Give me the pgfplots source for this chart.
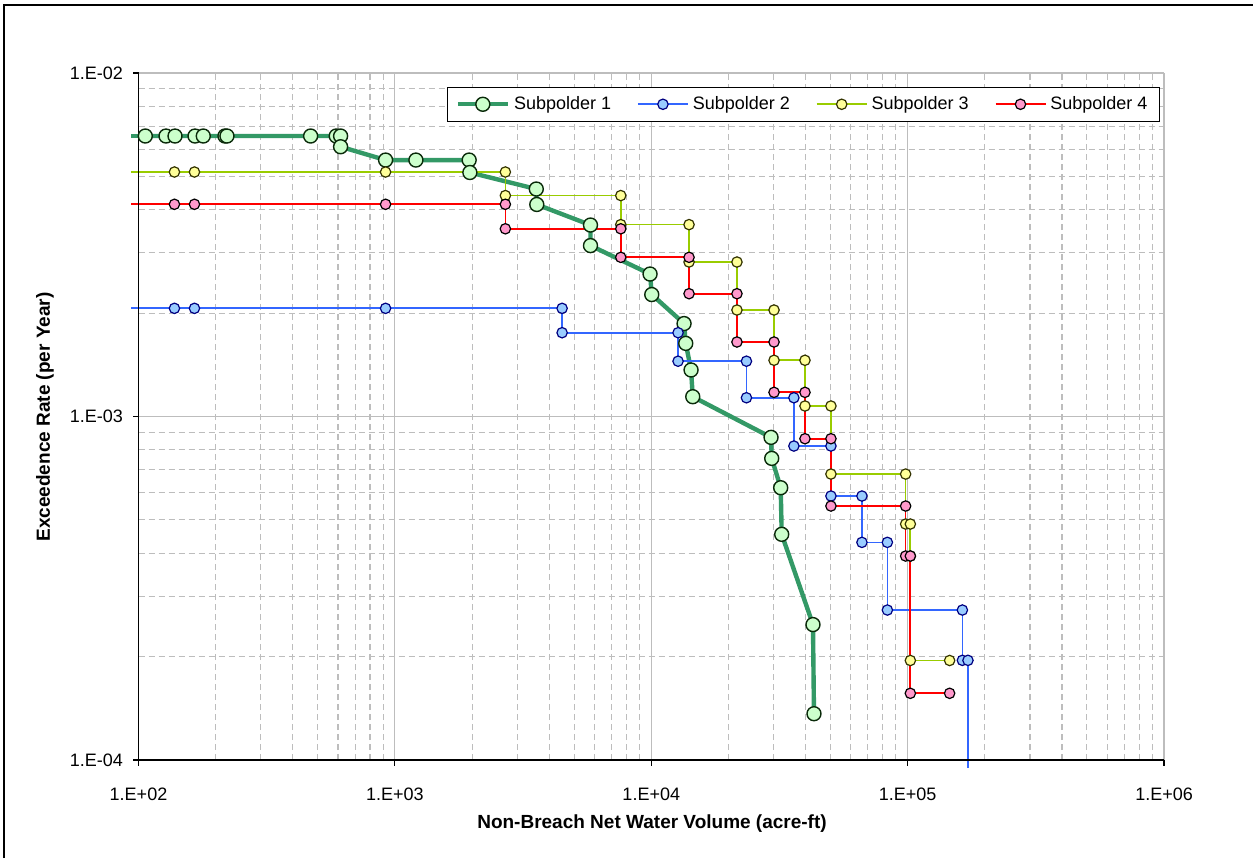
\documentclass[border=0pt]{standalone}
\usepackage{pgfplots}
\pgfplotsset{compat=1.18}
\usepackage{fontspec}
\setmainfont{Liberation Sans}
\definecolor{sAline}{HTML}{339966}\definecolor{sAfill}{HTML}{CCFFCC}\definecolor{sAedge}{HTML}{0A2A0A}
\definecolor{sBline}{HTML}{3366FF}\definecolor{sBfill}{HTML}{99CCFF}\definecolor{sBedge}{HTML}{000080}
\definecolor{sCline}{HTML}{99CC00}\definecolor{sCfill}{HTML}{FFFF99}\definecolor{sCedge}{HTML}{333300}
\definecolor{sDline}{HTML}{FF0000}\definecolor{sDfill}{HTML}{FF99CC}\definecolor{sDedge}{HTML}{000000}
\definecolor{gridc}{HTML}{BDBDBD}
\begin{document}
\begin{tikzpicture}
\path[use as bounding box] (0,0) rectangle (626.5pt,429pt);
\draw[line width=0.7pt] (2pt,0pt) -- (2pt,426.5pt) -- (626.5pt,426.5pt);
\begin{axis}[
  at={(69.25pt,49pt)}, anchor=south west,
  scale only axis, width=512.75pt, height=343.5pt,
  xmode=log, ymode=log,
  xmin=100, xmax=1e6, ymin=1e-4, ymax=1e-2,
  clip=false,
  axis line style={draw=none},
  grid=both,
  major grid style={solid, draw=gridc, line width=0.55pt},
  minor grid style={dash pattern=on 3.2pt off 1.8pt, draw=gridc, line width=0.55pt},
  xtick={1e2,1e3,1e4,1e5,1e6},
  xticklabels={1.E+02,1.E+03,1.E+04,1.E+05,1.E+06},
  ytick={1e-4,1e-3,1e-2},
  yticklabels={1.E-04,1.E-03,1.E-02},
  xtick pos=bottom, ytick pos=left,
  tick align=outside,
  major tick length=2.75pt, minor tick length=0pt,
  tick style={black, line width=0.6pt},
  ticklabel style={font=\fontsize{9}{10}\selectfont},
  xticklabel style={anchor=north, yshift=-7.5pt},
  yticklabel style={anchor=east, xshift=-1.5pt},
  legend columns=4,
  legend style={at={(rel axis cs:0.996,0.98)}, anchor=north east,
    draw=black, line width=0.5pt, fill=white,
    font=\fontsize{9}{10}\selectfont, inner xsep=4pt, inner ysep=2.5pt,
    /tikz/every even column/.append style={column sep=11pt}},
  legend image code/.code={\draw[mark repeat=2,mark phase=2] plot coordinates {(0pt,0pt)(12.5pt,0pt)(25pt,0pt)};},
  sA/.style={draw=sAline, line width=2.2pt, mark=*, mark size=3.5pt, mark options={fill=sAfill, draw=sAedge, line width=0.7pt, solid}},
  sB/.style={draw=sBline, line width=0.85pt, mark=*, mark size=2.6pt, mark options={fill=sBfill, draw=sBedge, line width=0.6pt, solid}},
  sC/.style={draw=sCline, line width=0.85pt, mark=*, mark size=2.6pt, mark options={fill=sCfill, draw=sCedge, line width=0.6pt, solid}},
  sD/.style={draw=sDline, line width=0.85pt, mark=*, mark size=2.6pt, mark options={fill=sDfill, draw=sDedge, line width=0.6pt, solid}},
]
% Subpolder 1
\addplot[draw=sAline, line width=2.2pt, forget plot] coordinates {(93.5,6.556e-3)(106.3,6.556e-3)};
\addplot[sA] coordinates {
(106.3,6.556e-3)(128,6.556e-3)(138.8,6.556e-3)(166.1,6.556e-3)(178.9,6.556e-3)(217.4,6.556e-3)(221.3,6.556e-3)
(469.2,6.556e-3)(590.4,6.556e-3)(614.1,6.556e-3)(614.1,6.101e-3)(919.8,5.580e-3)(1207.8,5.580e-3)(1948.9,5.580e-3)
(1961,5.133e-3)(3561,4.595e-3)(3577,4.143e-3)(5794,3.609e-3)(5794,3.145e-3)(9892,2.599e-3)(10044,2.265e-3)
(13425,1.865e-3)(13630,1.633e-3)(14296,1.366e-3)(14516,1.142e-3)(29320,8.696e-4)(29500,7.554e-4)
(31980,6.205e-4)(32270,4.540e-4)(42730,2.479e-4)(43120,1.364e-4)};
\addlegendentry{Subpolder 1}
% Subpolder 2
\addplot[draw=sBline, line width=0.85pt, forget plot] coordinates {(93.5,2.065e-3)(138.1,2.065e-3)};
\addplot[draw=sBline, line width=0.85pt, forget plot] coordinates {(171900,1.951e-4)(171900,9.48e-5)};
\addplot[sB] coordinates {
(138.1,2.065e-3)(165.3,2.065e-3)(919.8,2.065e-3)(4490,2.065e-3)(4490,1.754e-3)(12720,1.754e-3)(12720,1.449e-3)
(23510,1.449e-3)(23510,1.134e-3)(36000,1.134e-3)(36000,8.205e-4)(50210,8.205e-4)(50210,5.869e-4)(66340,5.869e-4)
(66340,4.302e-4)(83350,4.302e-4)(83350,2.733e-4)(163500,2.733e-4)(163500,1.951e-4)(171900,1.951e-4)};
\addlegendentry{Subpolder 2}
% Subpolder 3
\addplot[draw=sCline, line width=0.85pt, forget plot] coordinates {(93.5,5.150e-3)(138.1,5.150e-3)};
\addplot[sC] coordinates {
(138.1,5.150e-3)(165.3,5.150e-3)(919.8,5.150e-3)(2697,5.150e-3)(2697,4.398e-3)(7605,4.398e-3)(7605,3.620e-3)
(14040,3.620e-3)(14040,2.817e-3)(21590,2.817e-3)(21590,2.042e-3)(30120,2.042e-3)(30120,1.458e-3)(39780,1.458e-3)
(39780,1.073e-3)(50210,1.073e-3)(50210,6.800e-4)(98220,6.800e-4)(98220,4.864e-4)(102450,4.864e-4)(102450,3.926e-4)
(102450,1.949e-4)(145800,1.949e-4)};
\addlegendentry{Subpolder 3}
% Subpolder 4
\addplot[draw=sDline, line width=0.85pt, forget plot] coordinates {(93.5,4.148e-3)(138.1,4.148e-3)};
\addplot[sD] coordinates {
(138.1,4.148e-3)(165.3,4.148e-3)(919.8,4.148e-3)(2697,4.148e-3)(2697,3.520e-3)(7605,3.520e-3)(7605,2.907e-3)
(14040,2.907e-3)(14040,2.278e-3)(21590,2.278e-3)(21590,1.648e-3)(30120,1.648e-3)(30120,1.176e-3)(39780,1.176e-3)
(39780,8.617e-4)(50210,8.617e-4)(50210,5.488e-4)(98220,5.488e-4)(98220,3.926e-4)(102450,3.926e-4)(102450,1.564e-4)
(145800,1.564e-4)};
\addlegendentry{Subpolder 4}
\draw[black, line width=0.75pt] (rel axis cs:0,1) -- (rel axis cs:0,0) -- (rel axis cs:1,0);
\end{axis}
\node[font=\bfseries\fontsize{9.5}{11}\selectfont] at (326pt,17pt) {Non-Breach Net Water Volume (acre-ft)};
\node[font=\bfseries\fontsize{9.5}{11}\selectfont, rotate=90] at (22.5pt,220.5pt) {Exceedence Rate (per Year)};
\end{tikzpicture}
\end{document}
